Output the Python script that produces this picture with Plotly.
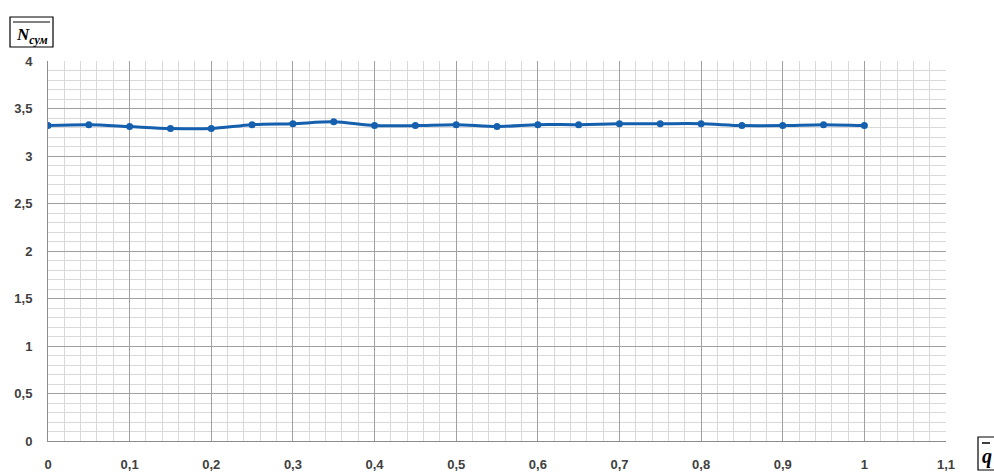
import plotly.graph_objects as go

q_values = [0, 0.05, 0.1, 0.15, 0.2, 0.25, 0.3, 0.35, 0.4, 0.45, 0.5,
            0.55, 0.6, 0.65, 0.7, 0.75, 0.8, 0.85, 0.9, 0.95, 1.0]
n_values = [3.32, 3.33, 3.31, 3.29, 3.29, 3.33, 3.34, 3.36, 3.32, 3.32, 3.33,
            3.31, 3.33, 3.33, 3.34, 3.34, 3.34, 3.32, 3.32, 3.33, 3.32]
x_ticks = [0, 0.1, 0.2, 0.3, 0.4, 0.5, 0.6, 0.7, 0.8, 0.9, 1.0, 1.1]
x_tick_labels = ["0", "0,1", "0,2", "0,3", "0,4", "0,5", "0,6", "0,7", "0,8", "0,9", "1", "1,1"]
y_ticks = [0, 0.5, 1, 1.5, 2, 2.5, 3, 3.5, 4]
y_tick_labels = ["0", "0,5", "1", "1,5", "2", "2,5", "3", "3,5", "4"]

blue = "#1460AE"
tickfont = dict(family="Liberation Sans, Arial", size=13, color="#404040", weight="bold")

L, R, T, B = 48, 946, 61, 441
W, H = R - L, B - T


def px(x):
    return (x - L) / W


def py(y):
    return (B - y) / H


fig = go.Figure()
fig.add_trace(go.Scatter(
    x=q_values, y=n_values, mode="lines+markers",
    line=dict(color=blue, width=3, shape="spline", smoothing=0.8),
    marker=dict(color=blue, size=7),
    showlegend=False,
))

fig.update_layout(
    width=994, height=475,
    margin=dict(l=L, r=994 - R, t=T, b=475 - B, autoexpand=False),
    paper_bgcolor="white", plot_bgcolor="white",
    xaxis=dict(
        range=[0, 1.1], tickvals=x_ticks, ticktext=x_tick_labels,
        showgrid=True, gridcolor="#A0A0A0", gridwidth=1,
        minor=dict(dtick=0.02, showgrid=True, gridcolor="#D9D9D9", gridwidth=1),
        showline=True, linecolor="#8C8C8C", linewidth=1,
        zeroline=False, ticks="", tickfont=tickfont, ticklabelstandoff=11,
        automargin=False,
    ),
    yaxis=dict(
        range=[0, 4], tickvals=y_ticks, ticktext=y_tick_labels,
        showgrid=True, gridcolor="#A0A0A0", gridwidth=1,
        minor=dict(dtick=0.1, showgrid=True, gridcolor="#D9D9D9", gridwidth=1),
        showline=True, linecolor="#8C8C8C", linewidth=1,
        zeroline=False, ticks="", tickfont=tickfont, ticklabelstandoff=12,
        automargin=False,
    ),
)

# Y axis title box
fig.add_shape(type="rect", xref="paper", yref="paper",
              x0=px(10), x1=px(53), y0=py(47), y1=py(17),
              line=dict(color="#000000", width=1.2), fillcolor="white")
fig.add_shape(type="line", xref="paper", yref="paper",
              x0=px(13), x1=px(50), y0=py(22), y1=py(22),
              line=dict(color="#000000", width=1))
fig.add_annotation(xref="paper", yref="paper", x=px(14), y=py(36),
                   xanchor="left", yanchor="middle",
                   text="<b><i>N<sub>сум</sub></i></b>", showarrow=False,
                   font=dict(family="Liberation Serif, Times New Roman", size=17, color="#000000"))

# X axis title box
fig.add_shape(type="rect", xref="paper", yref="paper",
              x0=px(978), x1=px(1000), y0=py(470), y1=py(437),
              line=dict(color="#000000", width=1.2), fillcolor="white")
fig.add_shape(type="line", xref="paper", yref="paper",
              x0=px(982), x1=px(990), y0=py(443), y1=py(443),
              line=dict(color="#000000", width=1.5))
fig.add_annotation(xref="paper", yref="paper", x=px(980), y=py(457),
                   xanchor="left", yanchor="middle",
                   text="<b><i>q</i></b>", showarrow=False,
                   font=dict(family="Liberation Serif, Times New Roman", size=20, color="#000000"))

fig.write_html("out.html", config={"displayModeBar": False},
               post_script="document.body.style.margin='0';document.body.style.padding='0';document.body.style.overflow='hidden';")
